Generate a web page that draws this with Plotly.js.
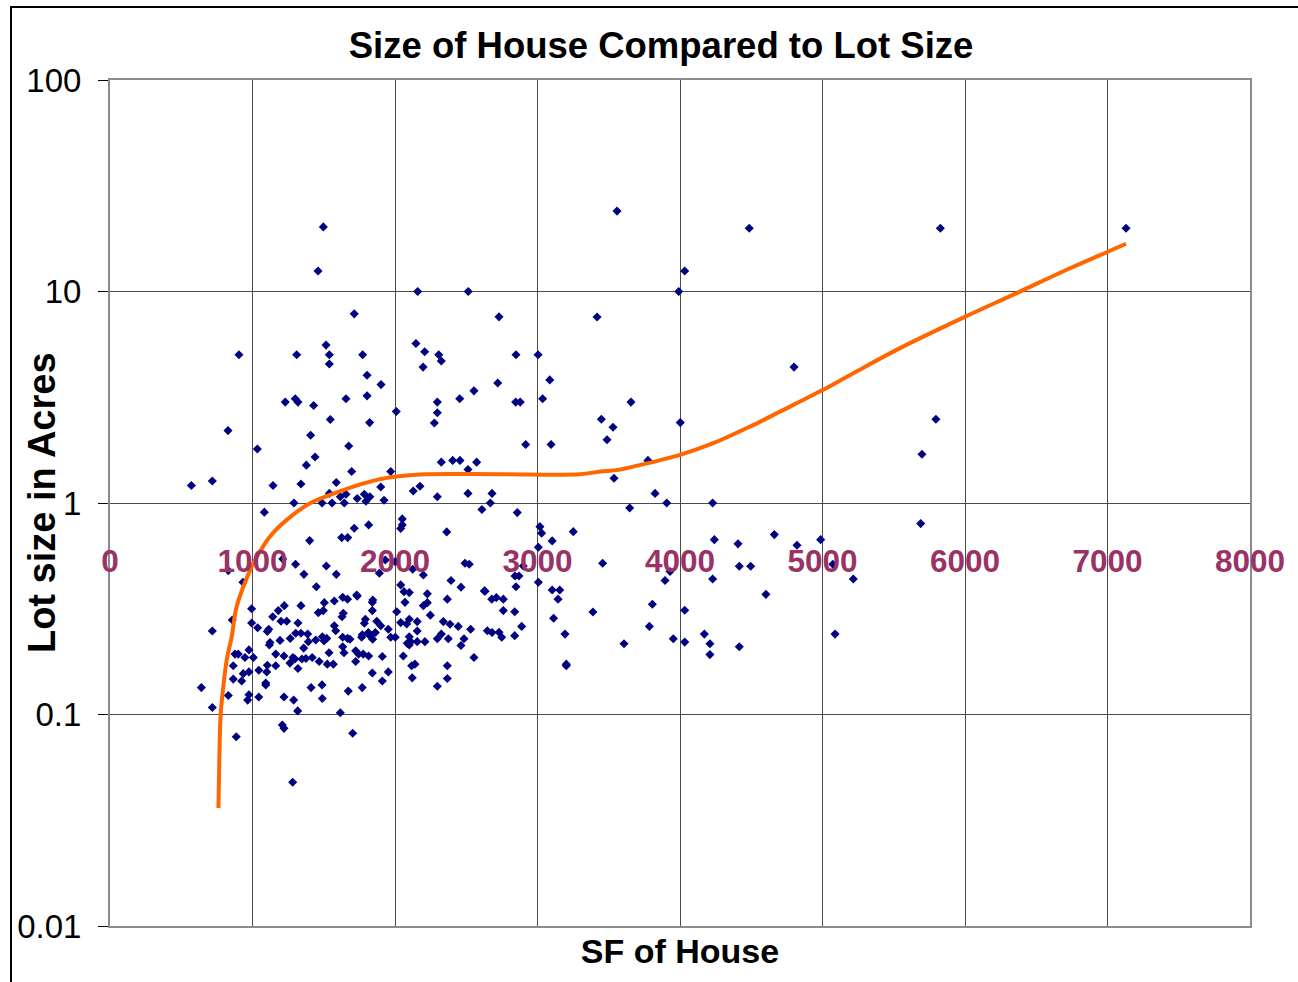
<!DOCTYPE html>
<html>
<head>
<meta charset="utf-8">
<script src="https://cdn.plot.ly/plotly-3.0.1.min.js"></script>
<style>
  html, body { margin:0; padding:0; background:#fff; overflow:hidden; }
  #wrap { position:relative; width:1298px; height:982px; overflow:hidden; }
  #chart { position:absolute; left:0; top:0; width:1298px; height:982px; }
  #frame { position:absolute; left:10px; top:6px; width:1400px; height:1100px; border:2px solid #000; pointer-events:none; }
</style>
</head>
<body>
<div id="wrap"><div id="chart"></div><div id="frame"></div></div>
<script>
// House size (square feet) of each property
const sqft = [
 905,828,1034,571,718,1310,1516,1539,1539,1773,1804,1902,1804,1656,1230,1300,1319,1429,1546,1822,
 2009,2147,1408,1675,1439,1378,1696,1970,1144,1340,1588,1900,2128,2175,1539,1616,1656,1735,1785,1796,
 1824,1923,1291,1488,1558,1644,1083,2051,2051,2040,1815,1714,1626,1668,1401,
 2363,1212,1302,1518,1361,1588,1448,830,933,1932,2002,2124,2199,1890,2040,2063,2100,2227,2393,2463,
 2491,2521,2627,1731,1844,
 994,1223,1340,1181,1142,858,718,994,1036,1200,1240,1319,1114,1104,1193,1123,1118,1265,1303,1340,
 1387,1392,1359,1444,1504,1462,1497,1574,1633,1667,1735,1628,1637,1841,1841,1792,1785,1872,1900,1574,
 1584,1490,1521,1502,1633,1667,1684,1770,1766,1813,1825,1862,1843,1953,1970,2002,1633,1642,1724,1745,
 1777,1815,1724,1911,1537,1468,1525,1567,1419,1375,1347,1284,1298,1221,1163,1163,1104,1100,1044,975,
 1006,947,877,900,865,935,975,865,924,1093,1093,1263,1319,1411,1488,1490,1672,1770,1841,1911,
 1953,2058,2117,2140,2121,2100,2086,2110,2156,2040,2100,2082,2012,2156,2070,641,718,830,975,966,
 1044,1221,1289,1317,1616,1209,1221,886,1703,1282,
 2208,2307,2325,2197,2849,3004,2721,3086,2297,2297,2276,2454,2554,2847,2879,3036,2917,3095,3448,3530,
 3488,2325,2405,2456,2512,2573,2297,2512,2681,2669,2610,2858,3537,3017,3029,3103,3251,3006,
 2842,2870,2900,3006,3457,2367,2199,2227,2248,2156,2100,2210,2339,2386,2444,2531,2325,2297,2374,2484,
 2463,2367,2367,2297,2554,2632,2679,2711,2760,2760,2840,2849,2648,2681,2730,2749,2840,2889,3103,3156,
 3144,3113,3193,3202,3202,3389,
 1497,1460,1714,2159,2514,2730,
 3558,4486,4033,3991,3418,4800,3656,4002,3775,3825,3647,3907,4229,4241,4407,4662,4821,4987,
 3930,3895,4229,4416,4496,4603,5072,5216,3806,4033,3785,3607,3953,4033,4171,4210,4210,4416,5088,
 5827,7130,5796,5698,5689
];
// Lot size (acres) of each property
const acres = [
 5.02,2.20,1.80,1.21,1.27,5.02,5.58,5.02,4.54,5.02,4.02,3.63,3.21,3.11,3.00,3.11,3.00,2.89,2.48,2.40,
 2.71,5.68,2.09,1.86,1.65,1.51,1.41,1.41,1.21,1.23,1.25,1.19,1.14,1.20,1.11,1.07,1.10,1.05,1.10,1.02,
 1.07,1.03,1.00,1.00,1.00,1.00,0.905,0.841,0.788,0.757,0.788,0.760,0.686,0.686,0.664,
 0.730,0.544,0.513,0.504,0.460,0.460,0.402,0.479,0.422,0.538,0.528,0.486,0.457,0.466,0.410,0.381,0.377,0.372,0.430,0.400,
 0.519,0.513,0.384,0.367,0.348,
 0.316,0.327,0.327,0.310,0.290,0.280,0.248,0.271,0.257,0.276,0.276,0.271,0.253,0.247,0.224,0.219,0.213,0.229,0.242,0.242,
 0.240,0.221,0.206,0.225,0.338,0.303,0.310,0.344,0.358,0.351,0.363,0.290,0.301,0.339,0.310,0.282,0.270,0.276,0.263,0.263,
 0.249,0.233,0.229,0.223,0.232,0.229,0.227,0.238,0.232,0.244,0.235,0.244,0.227,0.253,0.232,0.232,0.209,0.196,0.200,0.193,
 0.193,0.189,0.178,0.188,0.196,0.178,0.173,0.173,0.186,0.184,0.183,0.186,0.183,0.189,0.193,0.170,0.171,0.159,0.162,0.202,
 0.186,0.186,0.193,0.193,0.170,0.156,0.159,0.147,0.144,0.141,0.138,0.175,0.165,0.134,0.138,0.119,0.129,0.134,0.157,0.144,
 0.159,0.189,0.170,0.173,0.149,0.233,0.217,0.221,0.221,0.272,0.282,0.268,0.306,0.275,0.339,0.134,0.108,0.123,0.124,0.117,
 0.121,0.121,0.117,0.104,0.102,0.0892,0.0860,0.0785,0.0815,0.0478,
 5.19,5.02,4.69,4.39,5.02,5.02,3.69,3.82,3.00,2.67,2.39,3.11,3.39,3.00,3.00,3.11,1.89,1.89,2.49,2.28,
 1.99,1.56,1.59,1.59,1.44,1.56,1.07,1.11,1.11,1.00,0.931,0.901,1.31,0.773,0.720,0.662,0.732,0.618,
 0.452,0.452,0.504,0.422,0.519,0.351,0.327,0.338,0.295,0.248,0.213,0.221,0.275,0.267,0.261,0.253,0.240,0.228,0.228,0.228,
 0.212,0.170,0.148,0.136,0.186,0.383,0.351,0.357,0.351,0.310,0.306,0.402,0.249,0.244,0.245,0.232,0.236,0.261,0.388,0.388,
 0.351,0.285,0.240,0.173,0.170,0.305,
 20.2,12.5,7.84,10.0,10.0,7.59,
 24.0,19.9,12.5,10.0,7.57,4.39,3.00,2.40,1.59,1.11,0.948,1.00,1.00,0.671,0.641,0.709,0.631,0.671,
 0.474,0.430,0.437,0.502,0.502,0.370,0.513,0.437,0.332,0.311,0.261,0.216,0.228,0.220,0.240,0.216,0.192,0.209,0.240,
 19.9,19.9,2.49,1.70,0.799
];
// Trend line
const trendX = [761,767,777,795,819,854,889,994,1018,1123,1240,1404,1544,1708,1872,2012,2175,2737,3298,3439,3567,3672,4000,4234,4491,4795,4994,5216,5544,5995,6363,6714,7006,7130];
const trendY = [0.0361,0.0609,0.101,0.135,0.181,0.233,0.324,0.500,0.538,0.694,0.832,0.998,1.092,1.196,1.286,1.333,1.365,1.368,1.368,1.408,1.434,1.486,1.689,1.918,2.298,2.911,3.40,4.11,5.40,7.57,9.83,12.67,15.46,16.81];
// Axis ticks
const xTicks = [0,1000,2000,3000,4000,5000,6000,7000,8000];
const xTickText = ['0','1000','2000','3000','4000','5000','6000','7000','8000'];
const yTicks = [0.01,0.1,1,10,100];
const yTickText = ['0.01','0.1','1','10','100'];

const SANS = 'Liberation Sans, Arial, sans-serif';

const traces = [
  {
    type:'scatter', mode:'markers', x:sqft, y:acres, xaxis:'x', yaxis:'y',
    marker:{symbol:'diamond', size:7, color:'#000080'},
    showlegend:false, hoverinfo:'x+y'
  },
  {
    type:'scatter', mode:'lines', x:trendX, y:trendY, xaxis:'x', yaxis:'y',
    line:{color:'#FF6600', width:4, shape:'spline'},
    showlegend:false, hoverinfo:'skip'
  },
  {
    type:'scatter', mode:'markers', x:[], y:[], xaxis:'x2', yaxis:'y',
    showlegend:false, hoverinfo:'skip'
  }
];

const layout = {
  width:1298, height:982,
  margin:{l:110, r:48, t:80, b:56},
  paper_bgcolor:'#ffffff', plot_bgcolor:'#ffffff',
  showlegend:false,
  title:{
    text:'Size of House Compared to Lot Size',
    font:{family:SANS, size:36.5, color:'#000', weight:'bold'},
    xref:'container', x:0.5093, xanchor:'center',
    yref:'container', y:0.954, yanchor:'middle'
  },
  xaxis:{
    range:[0,8000], tickvals:xTicks, showticklabels:false,
    showgrid:true, gridcolor:'#4a4a4a', gridwidth:1,
    zeroline:false, showline:true, linecolor:'#8c8c8c', linewidth:2, mirror:true,
    ticks:'',
    title:{text:'SF of House', font:{family:SANS, size:34, color:'#000', weight:'bold'}, standoff:12}
  },
  xaxis2:{
    overlaying:'x', anchor:'free', position:0.457, side:'bottom',
    range:[0,8000], tickvals:xTicks, ticktext:xTickText,
    showgrid:false, zeroline:false, showline:false, ticks:'',
    tickfont:{family:SANS, size:31.5, color:'#993366', weight:'bold'},
    ticklabelstandoff:0
  },
  yaxis:{
    type:'log', range:[-2,2], tickvals:yTicks, ticktext:yTickText,
    showgrid:true, gridcolor:'#4a4a4a', gridwidth:1,
    zeroline:false, showline:true, linecolor:'#8c8c8c', linewidth:2, mirror:true,
    ticks:'outside', ticklen:10, tickcolor:'#000', tickwidth:1,
    tickfont:{family:SANS, size:33, color:'#000'},
    ticklabelstandoff:10
  },
  annotations:[
    {
      text:'Lot size in Acres', textangle:-90,
      xref:'paper', yref:'paper', x:-0.0596, y:0.5,
      xanchor:'center', yanchor:'middle', showarrow:false,
      font:{family:SANS, size:38, color:'#000', weight:'bold'}
    }
  ]
};

Plotly.newPlot('chart', traces, layout, {displayModeBar:false, staticPlot:true});
</script>
</body>
</html>
